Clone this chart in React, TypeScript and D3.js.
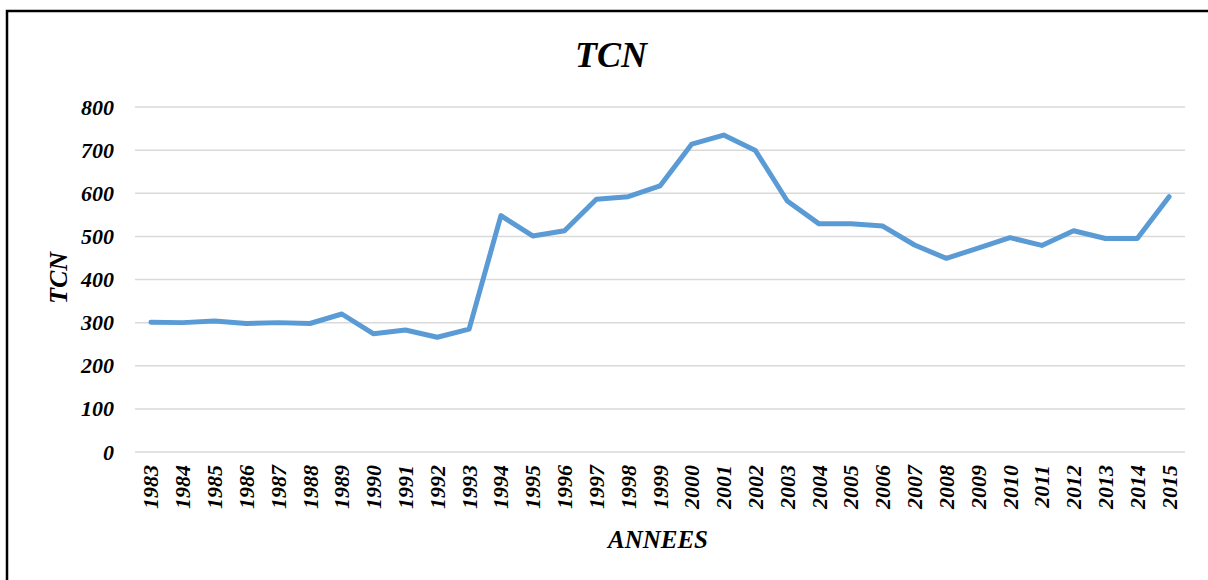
import React from "react";
import * as d3 from "d3";

const years: string[] = [
  "1983","1984","1985","1986","1987","1988","1989","1990","1991","1992","1993",
  "1994","1995","1996","1997","1998","1999","2000","2001","2002","2003","2004",
  "2005","2006","2007","2008","2009","2010","2011","2012","2013","2014","2015",
];
const tcn: number[] = [
  301, 300, 304, 298, 300, 298, 320, 274, 283, 266, 285,
  548, 501, 513, 586, 592, 617, 714, 735, 699, 582, 529,
  529, 524, 480, 449, 473, 497, 479, 513, 495, 495, 592,
];
const yTicks: number[] = [0, 100, 200, 300, 400, 500, 600, 700, 800];
const title = "TCN";
const yTitle = "TCN";
const xTitle = "ANNEES";

const W = 1208;
const H = 580;
const left = 135;
const right = 1185;
const top = 107;
const bottom = 452;
const font = "'Liberation Serif', 'Times New Roman', serif";

export default function App() {
  const x = d3.scalePoint<string>().domain(years).range([left, right]).padding(0.5);
  const y = d3.scaleLinear().domain([0, 800]).range([bottom, top]);
  const line = d3
    .line<number>()
    .x((_, i) => x(years[i]) as number)
    .y((d) => y(d));

  return (
    <svg width={W} height={H} style={{ position: "absolute", left: 0, top: 0, background: "#fff" }}>
      <rect x={0} y={0} width={W} height={H} fill="#fff" />
      <rect x={7} y={11} width={W + 20} height={H + 20} fill="none" stroke="#000" strokeWidth={2.5} />
      <text x={611} y={67} textAnchor="middle" fontFamily={font} fontWeight="bold" fontStyle="italic" fontSize={36}>
        {title}
      </text>
      {yTicks.map((t) => (
        <g key={t}>
          <line x1={left} x2={right} y1={y(t)} y2={y(t)} stroke="#d9d9d9" strokeWidth={1.5} />
          <text x={114} y={y(t) + 7.5} textAnchor="end" fontFamily={font} fontWeight="bold" fontStyle="italic" fontSize={22}>
            {t}
          </text>
        </g>
      ))}
      {years.map((yr) => (
        <text
          key={yr}
          transform={`translate(${(x(yr) as number) + 7.5},${465}) rotate(-90)`}
          textAnchor="end"
          fontFamily={font}
          fontWeight="bold"
          fontStyle="italic"
          fontSize={22}
        >
          {yr}
        </text>
      ))}
      <text
        transform={`translate(${67},${278}) rotate(-90)`}
        textAnchor="middle"
        fontFamily={font}
        fontWeight="bold"
        fontStyle="italic"
        fontSize={26}
      >
        {yTitle}
      </text>
      <text x={658} y={548} textAnchor="middle" fontFamily={font} fontWeight="bold" fontStyle="italic" fontSize={25}>
        {xTitle}
      </text>
      <path d={line(tcn) || ""} fill="none" stroke="#5B9BD5" strokeWidth={5} strokeLinejoin="round" strokeLinecap="round" />
    </svg>
  );
}
